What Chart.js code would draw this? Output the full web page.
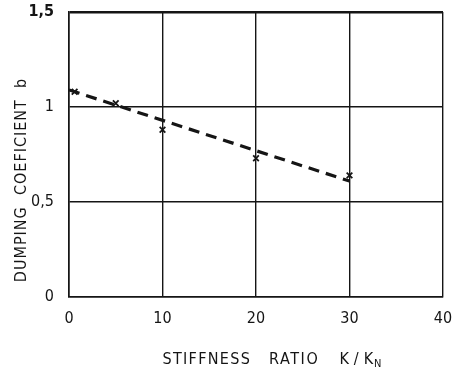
<!DOCTYPE html>
<html>
<head>
<meta charset="utf-8">
<script src="https://cdn.jsdelivr.net/npm/chart.js@4/dist/chart.umd.min.js"></script>
<style>
html,body{margin:0;padding:0;background:#fff;}
#wrap{width:452px;height:370px;}
</style>
</head>
<body>
<div id="wrap"><canvas id="c" width="452" height="370"></canvas></div>
<script>
// Measured data (x marks)
const stiffnessRatio = [0.6, 5, 10, 20, 30];
const dampingCoef = [1.08, 1.02, 0.88, 0.73, 0.64];
// Dashed fitted line
const fitRatio = [0, 30];
const fitCoef = [1.09, 0.61];
// Axis ticks
const xTicks = [0, 10, 20, 30, 40];
const yTicks = [0, 0.5, 1, 1.5];
const yTickLabels = ['0', '0,5', '1', '1,5'];
const xTitleParts = ['STIFFNESS', 'RATIO', 'K/K', 'N'];
const yTitle = 'DUMPING  COEFICIENT  b';

const FONT = '"DejaVu Sans Condensed", "Liberation Sans Narrow", sans-serif';
const INK = '#151515';

const titlePlugin = {
  id: 'titles',
  afterDraw(chart) {
    const ctx = chart.ctx, ca = chart.chartArea;
    ctx.save();
    ctx.fillStyle = INK;
    ctx.font = '16px ' + FONT;
    ctx.textBaseline = 'alphabetic';
    // x title
    let x = ca.left + 0.25 * (ca.right - ca.left);
    const y = 364;
    const gaps = [18, 20, 0];
    const spacing = ['1.3px', '1.6px', '5px'];
    for (let i = 0; i < 3; i++) {
      ctx.letterSpacing = spacing[i];
      ctx.fillText(xTitleParts[i], x, y);
      x += ctx.measureText(xTitleParts[i]).width + gaps[i];
    }
    ctx.letterSpacing = '0px';
    ctx.font = '11px ' + FONT;
    ctx.fillText(xTitleParts[3], x - 4, y + 3);
    // y title rotated
    ctx.font = '16px ' + FONT;
    ctx.letterSpacing = '1px';
    ctx.translate(26, 180);
    ctx.rotate(-Math.PI / 2);
    ctx.textAlign = 'center';
    ctx.fillText(yTitle, 0, 0);
    ctx.restore();
  }
};

new Chart(document.getElementById('c'), {
  type: 'scatter',
  data: {
    datasets: [
      {
        label: 'fit',
        data: fitRatio.map((k, i) => ({x: k, y: fitCoef[i]})),
        showLine: true,
        borderColor: INK,
        borderWidth: 3.2,
        borderDash: [11, 7],
        pointRadius: 0,
        fill: false
      },
      {
        label: 'measured',
        data: stiffnessRatio.map((k, i) => ({x: k, y: dampingCoef[i]})),
        showLine: false,
        pointStyle: 'crossRot',
        pointRadius: 4,
        borderColor: INK,
        borderWidth: 1.8,
        backgroundColor: INK
      }
    ]
  },
  options: {
    responsive: false,
    animation: false,
    layout: {padding: {top: 12, right: 9, left: 0, bottom: 0}},
    plugins: {legend: {display: false}, tooltip: {enabled: false}},
    scales: {
      x: {
        type: 'linear',
        min: xTicks[0], max: xTicks[xTicks.length - 1],
        afterBuildTicks: s => { s.ticks = xTicks.map(v => ({value: v})); },
        afterFit: s => { s.height = 73; s.paddingLeft = 0; s.paddingRight = 0; },
        border: {display: true, color: INK, width: 1.6},
        grid: {color: INK, lineWidth: 1.4, drawTicks: false},
        ticks: {
          padding: 12,
          color: INK,
          font: {family: FONT, size: 16},
          maxRotation: 0,
          callback: v => String(v)
        }
      },
      y: {
        type: 'linear',
        min: yTicks[0], max: yTicks[yTicks.length - 1],
        afterBuildTicks: s => { s.ticks = yTicks.map(v => ({value: v})); },
        afterFit: s => { s.width = 69; s.paddingTop = 0; s.paddingBottom = 0; },
        border: {display: true, color: INK, width: 1.6},
        grid: {
          color: INK,
          lineWidth: c => (c.tick && c.tick.value === 1.5 ? 2.6 : 1.4),
          drawTicks: false
        },
        ticks: {
          padding: 15,
          color: INK,
          font: c => ({family: FONT, size: 16, weight: (c.tick && c.tick.value === 1.5) ? 'bold' : 'normal'}),
          callback: v => yTickLabels[yTicks.indexOf(v)]
        }
      }
    }
  },
  plugins: [titlePlugin]
});
</script>
</body>
</html>
